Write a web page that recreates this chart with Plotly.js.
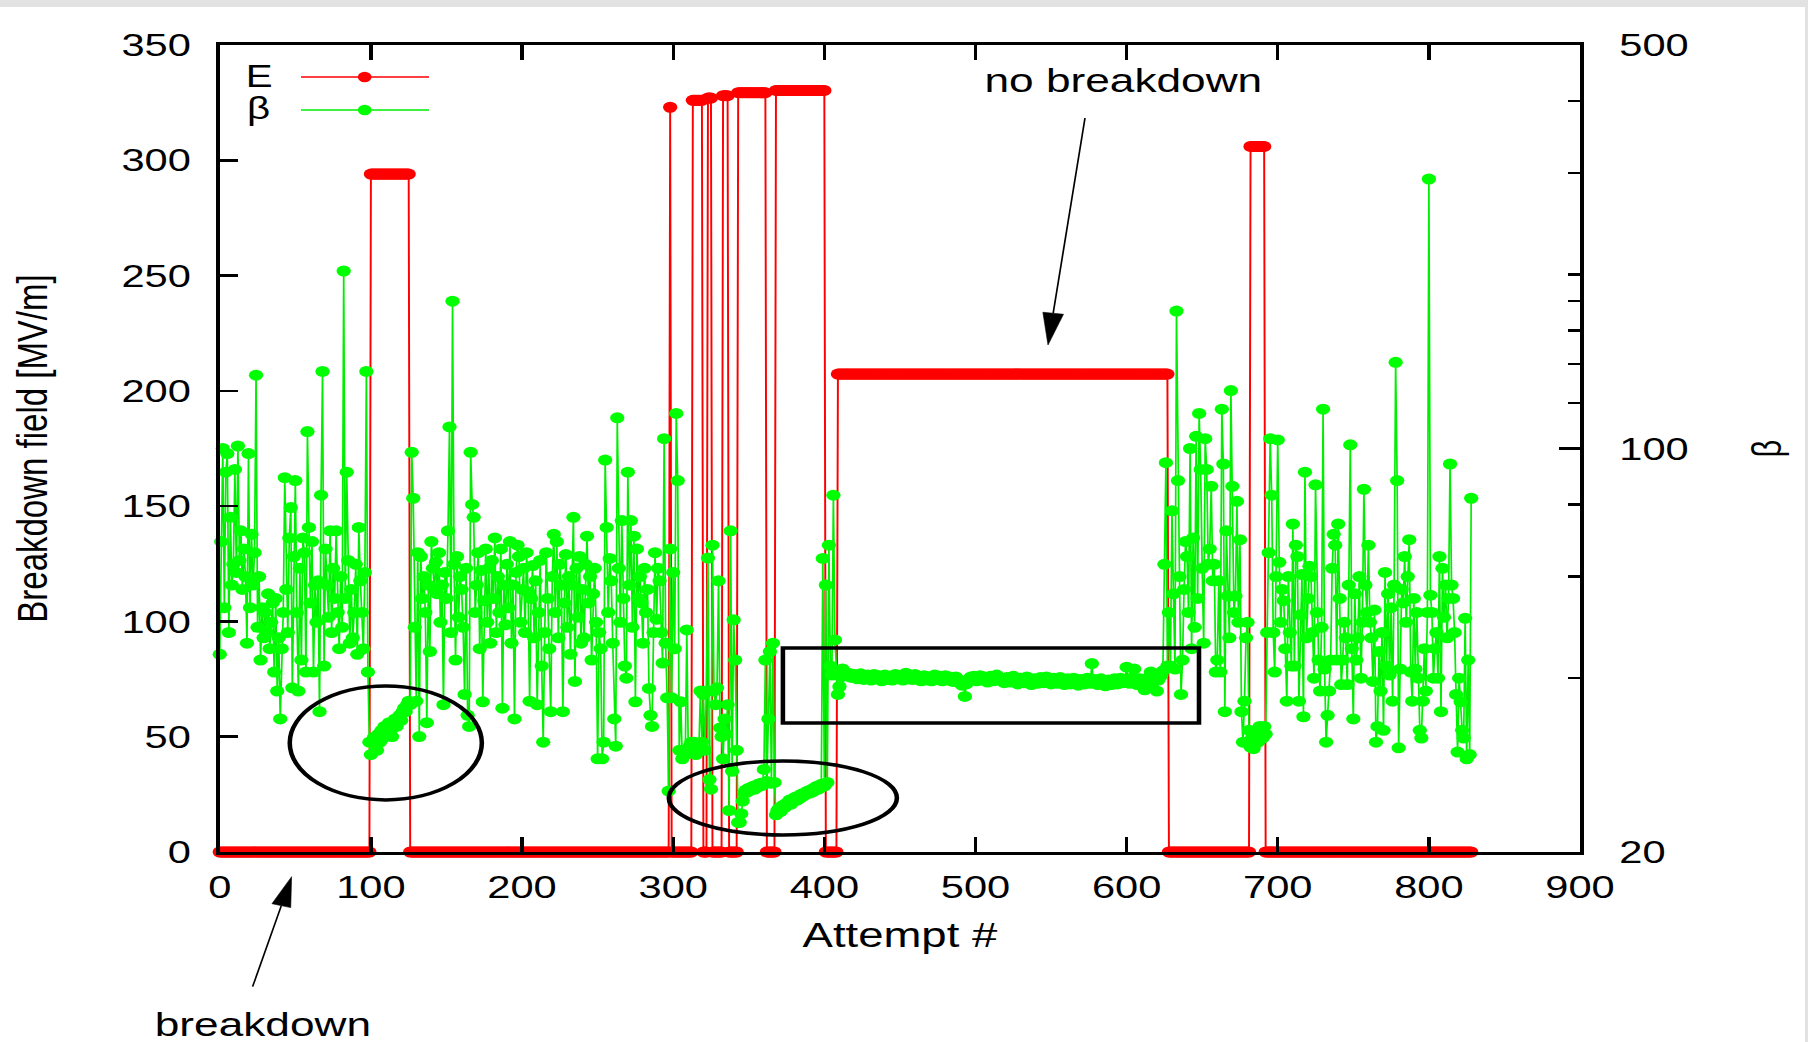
<!DOCTYPE html>
<html>
<head>
<meta charset="utf-8">
<script src="https://cdn.plot.ly/plotly-3.0.1.min.js"></script>
<style>
html,body{margin:0;padding:0;background:#e2e2e2;overflow:hidden;width:1808px;height:1042px;}
#wrap{position:absolute;left:0;top:7px;width:1388px;height:1035px;transform-origin:0 0;transform:scaleX(1.30043);background:#fff;}
#chart{width:1388px;height:1035px;}
</style>
</head>
<body>
<div id="wrap"><div id="chart"></div></div>
<script>
// ---------- DATA ----------
// Breakdown field E [MV/m], given as runs of attempts with a constant level
const eStart = [0, 100, 126, 298, 299, 313, 320, 323, 326, 333, 337, 343, 362, 368, 401, 409, 628, 682, 692];
const eEnd   = [99, 125, 297, 298, 312, 319, 322, 325, 332, 336, 342, 361, 367, 400, 408, 627, 681, 691, 828];
const eLevel = [0, 294, 0, 323, 0, 326, 0, 327, 0, 328, 0, 329.3, 0, 330.3, 0, 207.3, 0, 306, 0];

// Field enhancement factor beta, one value per attempt (attempt # = index 0..828)
const beta = [
  44, 69, 100, 53, 91, 98, 48, 76, 58, 63,
  92, 61, 101, 64, 72, 57, 67, 60, 46, 98,
  53, 71, 58, 66, 134, 49, 60, 43, 53, 47,
  52, 48, 56, 45, 50, 54, 41, 55, 38, 47,
  34, 45, 52, 89, 57, 48, 70, 79, 38.5, 65,
  88, 52, 38, 62, 43, 70, 66, 41, 107, 73,
  54, 69, 41, 58, 50, 59, 35, 83, 136, 42,
  67, 58, 51, 72, 48, 62, 55, 72, 52, 45,
  60, 49, 203, 55, 91, 64, 46, 57, 47, 52,
  63, 44, 73, 59, 52, 45, 61, 136, 41, 31,
  29.5, 31, 31.6, 30.5, 30, 32, 31, 32.5, 31.5, 33,
  33, 32, 33.5, 32.5, 31.7, 33.5, 34, 33, 34, 34.5,
  33.8, 35, 35.5, 35, 36, 36.5, 36, 98.5, 82, 49,
  36.5, 66, 31.7, 65, 55, 60, 52, 33.5, 58, 44.5,
  69, 62, 57, 63.5, 56, 66, 50, 58, 36, 61,
  55, 72, 109, 48, 180, 63, 43, 65, 51, 60,
  57, 49, 37.5, 62, 34.5, 33, 98.5, 80, 76, 52,
  58, 66, 45, 61.5, 36.4, 54.5, 67, 50, 62, 46,
  64, 55, 70, 48, 60, 52, 67, 35.5, 58, 49.5,
  63, 53, 69, 46, 58, 34, 61, 68, 65, 50,
  57, 62, 48, 66, 56.5, 36.5, 55, 62.7, 47, 59,
  36, 52, 64, 42, 31, 48, 66, 55, 45, 35,
  60, 71, 52, 69, 47, 63, 58, 35, 54, 65.5,
  49, 60, 44, 58, 76, 39.5, 62, 51, 65, 46,
  57, 47, 63, 70.5, 54, 60, 43, 56, 62, 50,
  29, 48, 45, 29, 31, 95.5, 73, 52, 64.5, 59,
  46, 34, 30.5, 113, 62, 50, 75, 55, 42, 40,
  91, 58, 75, 49, 70.5, 36.4, 67, 55, 60, 54,
  46, 62, 52, 57, 38.4, 34.5, 33, 48, 66, 50.6,
  62, 59, 48, 42.5, 104, 46, 37, 25.5,
  67, 37, 61, 45, 115, 88, 30, 36.4, 29, 30, 29.5, 48.5, 29.7, 30.5, 31,
  30, 31, 29.5, 30.5, 30, 38, 31, 37.5, 30, 38, 64.6, 26.7, 25.7, 68, 38, 36,
  38.5, 59, 32.8, 31.7, 29, 34, 32, 36, 23.6, 72, 27.6, 50.5, 43, 30, 22.5,
  22.5, 23.3, 24.5, 25.3, 25.6, 25.4, 25.8, 25.6, 25.9, 26, 25.7, 26,
  26.2, 26, 26.3, 26.1, 27.8, 43, 26.5, 34, 44.5, 26.3, 46, 26.4,
  23.2, 23.6, 23.8, 23.5, 24, 24.1, 23.9, 24.3, 24.2, 24.6,
  24.2, 24.7, 24.5, 24.9, 24.6, 25, 24.8, 25.2, 25, 25.3,
  25.2, 25.5, 25.3, 25.6, 25.4, 25.8, 25.6, 26, 25.7, 25.8, 26.2,
  64.5, 26, 58, 26.4, 68, 42, 40.5, 83, 46.6, 41,
  37.5, 38.7, 40.2, 41.5, 41.0, 40.6, 40.4, 40.8, 40.2, 40.5,
  40.1, 40.6, 40.3, 39.9, 40.4, 40.7, 40.2, 39.8, 40.3, 40.1,
  40.5, 40.0, 39.7, 40.2, 40.6, 40.1, 39.9, 40.4, 40.0, 39.6,
  40.1, 40.5, 40.2, 39.8, 40.3, 40.0, 39.7, 40.2, 40.6, 40.1,
  39.9, 40.4, 40.1, 39.7, 40.2, 40.8, 40.3, 39.9, 40.2, 39.8,
  40.3, 40.6, 40.1, 39.8, 40.2, 39.6, 40.0, 40.4, 40.1, 39.7,
  40.2, 40.0, 39.6, 40.1, 40.5, 40.2, 39.8, 40.3, 40.0, 39.6,
  40.1, 40.4, 40.0, 39.7, 40.2, 39.9, 39.5, 39.8, 40.2, 39.9,
  39.5, 39.2, 38.9, 39.4, 37.2, 39.1, 39.5, 39.9, 40.2, 39.8,
  40.3, 39.9, 39.6, 40.1, 40.4, 40.0, 39.7, 40.2, 39.8, 39.4,
  39.9, 40.3, 40.0, 39.6, 40.1, 40.5, 40.2, 39.8, 40.0, 39.6,
  39.3, 39.7, 40.1, 39.8, 39.4, 39.9, 40.3, 39.9, 39.5, 39.1,
  39.6, 40.0, 39.7, 39.3, 39.8, 40.2, 39.8, 39.4, 39.0, 39.5,
  39.9, 39.6, 39.2, 39.7, 40.1, 39.7, 39.3, 39.8, 40.2, 39.9,
  39.5, 39.1, 39.6, 40.0, 39.6, 39.2, 39.7, 40.1, 39.8, 39.4,
  39.0, 39.5, 39.9, 39.5, 39.1, 39.6, 40.0, 39.7, 39.3, 38.9,
  39.4, 39.8, 39.5, 39.1, 39.6, 40.0, 39.6, 39.2, 42.4, 39.5,
  39.8, 39.4, 39.0, 39.5, 39.9, 39.6, 39.2, 38.8, 39.3, 39.7,
  39.4, 39.0, 39.5, 39.9, 39.5, 39.1, 39.6, 40.0, 39.7, 39.3,
  39.8, 41.8, 39.6, 39.2, 39.7, 40.1, 41.5, 39.4, 39.0, 39.5,
  39.9, 39.5, 39.1, 38.2, 39.6, 40.0, 39.7, 41.0, 39.3, 39.8,
  40.1, 38.0, 39.7, 40.2, 40.5, 41.2,
  63, 94.5, 42, 52, 42,
  78, 56, 41.5, 173, 88, 60, 37.5, 43, 57, 69,
  65, 52, 100, 45, 70, 49, 105, 55, 115, 92,
  62, 46, 104, 92, 63, 67, 86, 59, 63, 41,
  43, 59, 41, 117, 94, 35, 72, 55.5, 47, 126,
  86, 52, 55.5, 81, 50, 69.5, 35, 31, 36.5, 47,
  50, 32.5, 30.4, 31.5, 30.2, 31, 32.5, 31, 33, 32,
  31.5, 33, 32, 48, 66, 104, 83, 48, 41, 60,
  103.5, 63.5, 50, 57, 54.5, 45, 36.5, 60, 48, 42,
  74, 42, 68, 65, 36.5, 51.5, 60.5, 34.3, 91, 47,
  55, 62.5, 60, 48, 40, 86.5, 52, 43, 38, 49,
  117, 41.5, 31, 34.5, 38, 43, 62, 71, 68, 43,
  74, 55, 39, 43, 50, 47, 39, 58, 101.5, 45,
  34, 56, 43, 47, 60, 40, 50, 85, 58, 52,
  68, 50, 47, 39.5, 52.5, 31, 33, 44.5, 38, 48,
  32.5, 61, 42, 56, 40.5, 53, 36.5, 58, 141, 88,
  30.3, 41.5, 57, 54, 65, 50, 60, 69.5, 41, 36.5,
  55, 41.5, 52, 40, 32.5, 31.5, 36.5, 45, 38, 52,
  293, 55.7, 52, 40, 45, 48, 40, 65, 35, 62,
  51, 58, 47, 55, 94, 58, 55, 48, 37.5, 29.8,
  40, 36.4, 32.5, 31.5, 50.8, 29, 43, 29.5, 82
];

const xTickVals = [0, 100, 200, 300, 400, 500, 600, 700, 800, 900];
const yTickVals = [0, 50, 100, 150, 200, 250, 300, 350];
const y2TickVals = [20, 100, 500];
const y2TickText = ['20', '100', '500'];
const y2MinorVals = [40, 60, 80, 120, 140, 160, 180, 200, 300, 400];

// ---------- BUILD TRACE ARRAYS ----------
const eX = [], eY = [];
for (let k = 0; k < eStart.length; k++) {
  for (let a = eStart[k]; a <= eEnd[k]; a++) { eX.push(a); eY.push(eLevel[k]); }
}
const bX = beta.map((v, i) => i);
if (beta.length !== 829) console.warn('beta length', beta.length);

// ---------- GEOMETRY HELPERS (page pixels -> paper) ----------
const S = 1805 / 1388;            // horizontal stretch of the original figure
const ML = 169, MR = 173, MT = 38, MB = 190, W0 = 1388, H0 = 1035;
const PW = W0 - ML - MR, PH = H0 - MT - MB;
const px = xf => (xf / S - ML) / PW;
const py = yf => (852 - yf) / PH;

function arrow(tail, tip, headLen, headHalf) {
  const tx = tail[0] / S, ty = tail[1], hx = tip[0] / S, hy = tip[1];
  const dx = tx - hx, dy = ty - hy, len = Math.hypot(dx, dy);
  const ux = dx / len, uy = dy / len;
  const bx = hx + ux * headLen, by = hy + uy * headLen;
  const pxu = -uy, pyu = ux;
  const toP = (x, y) => [(x - ML) / PW, (852 - y) / PH];
  const A = toP(tx, ty), Bc = toP(bx, by), T = toP(hx, hy);
  const C1 = toP(bx + pxu * headHalf, by + pyu * headHalf);
  const C2 = toP(bx - pxu * headHalf, by - pyu * headHalf);
  return [
    {type: 'line', xref: 'paper', yref: 'paper', x0: A[0], y0: A[1], x1: Bc[0], y1: Bc[1],
     line: {color: 'black', width: 1.3}},
    {type: 'path', xref: 'paper', yref: 'paper',
     path: `M${T[0]},${T[1]} L${C1[0]},${C1[1]} L${C2[0]},${C2[1]} Z`,
     fillcolor: 'black', line: {color: 'black', width: 0.5}}
  ];
}

const FONT = 'Liberation Sans, Arial, Helvetica, sans-serif';

const traces = [
  {
    x: eX, y: eY, name: 'E', type: 'scatter', mode: 'lines+markers',
    yaxis: 'y', cliponaxis: false,
    line: {color: '#ff0000', width: 1.5},
    marker: {color: '#ff0000', size: 11}
  },
  {
    x: bX, y: beta, name: 'β', type: 'scatter', mode: 'lines+markers',
    yaxis: 'y2', cliponaxis: false,
    line: {color: '#00ee00', width: 1.3},
    marker: {color: '#00ff00', size: 11}
  }
];

const shapes = [
  {type: 'circle', xref: 'x', yref: 'y', x0: 46.3, x1: 173.4, y0: 22.6, y1: 72, line: {color: 'black', width: 3.5}, layer: 'above'},
  {type: 'circle', xref: 'x', yref: 'y', x0: 297.1, x1: 448, y0: 7.4, y1: 39.5, line: {color: 'black', width: 3.5}, layer: 'above'},
  {type: 'rect', xref: 'x', yref: 'y', x0: 372.6, x1: 647.9, y0: 55.9, y1: 88.5, line: {color: 'black', width: 3.5}, layer: 'above'},
  {type: 'line', xref: 'paper', yref: 'paper', x0: px(301), x1: px(429), y0: py(77), y1: py(77), line: {color: '#ff0000', width: 1.5}},
  {type: 'circle', xref: 'paper', yref: 'paper', xsizemode: 'pixel', ysizemode: 'pixel',
   xanchor: px(364.7), yanchor: py(77), x0: -5.3, x1: 5.3, y0: -5.3, y1: 5.3, fillcolor: '#ff0000', line: {width: 0}},
  {type: 'line', xref: 'paper', yref: 'paper', x0: px(301), x1: px(429), y0: py(110), y1: py(110), line: {color: '#00ee00', width: 1.3}},
  {type: 'circle', xref: 'paper', yref: 'paper', xsizemode: 'pixel', ysizemode: 'pixel',
   xanchor: px(364.7), yanchor: py(110), x0: -5.3, x1: 5.3, y0: -5.3, y1: 5.3, fillcolor: '#00ff00', line: {width: 0}},
  ...arrow([1085, 118], [1048, 345], 32, 8),
  ...arrow([252.6, 986.7], [291.6, 876.7], 30, 7.5)
];

const annotations = [
  {text: 'E', xref: 'paper', yref: 'paper', x: px(259), y: py(77), xanchor: 'center', yanchor: 'middle',
   showarrow: false, font: {family: FONT, size: 31, color: 'black'}},
  {text: 'β', xref: 'paper', yref: 'paper', x: px(259), y: py(108), xanchor: 'center', yanchor: 'middle',
   showarrow: false, font: {family: FONT, size: 31, color: 'black'}},
  {text: 'no breakdown', xref: 'paper', yref: 'paper', x: px(1124), y: py(80), xanchor: 'center', yanchor: 'middle',
   showarrow: false, font: {family: FONT, size: 34, color: 'black'}},
  {text: 'breakdown', xref: 'paper', yref: 'paper', x: px(263), y: py(1024), xanchor: 'center', yanchor: 'middle',
   showarrow: false, font: {family: FONT, size: 34, color: 'black'}}
];

const axisCommon = {
  showgrid: false, zeroline: false, showline: true, linecolor: 'black', linewidth: 2.8,
  ticks: 'inside', tickcolor: 'black', tickwidth: 2.5,
  tickfont: {family: FONT, size: 32, color: 'black'}
};

const layout = {
  width: W0, height: H0,
  margin: {l: ML, r: MR, t: MT, b: MB, pad: 0},
  paper_bgcolor: 'white', plot_bgcolor: 'white',
  showlegend: false,
  font: {family: FONT, color: 'black'},
  xaxis: Object.assign({}, axisCommon, {
    range: [0, 900], tickmode: 'array', tickvals: xTickVals, ticklen: 15,
    mirror: 'ticks', ticklabelstandoff: 5,
    title: {text: 'Attempt #', font: {family: FONT, size: 35, color: 'black'}, standoff: 19}
  }),
  yaxis: Object.assign({}, axisCommon, {
    range: [0, 350], tickmode: 'array', tickvals: yTickVals, ticklen: 14,
    mirror: false, ticklabelstandoff: 13,
    title: {text: 'Breakdown field [MV/m]', font: {family: FONT, size: 33, color: 'black'}, standoff: 47}
  }),
  yaxis2: Object.assign({}, axisCommon, {
    overlaying: 'y', side: 'right', type: 'log',
    range: [Math.log10(20), Math.log10(500)],
    tickmode: 'array', tickvals: y2TickVals, ticktext: y2TickText, ticklen: 16,
    ticklabelstandoff: 21,
    minor: {tickmode: 'array', tickvals: y2MinorVals, ticks: 'inside', ticklen: 9, tickwidth: 2.5, tickcolor: 'black', showgrid: false},
    title: {text: 'β', font: {family: FONT, size: 31, color: 'black'}, standoff: 51}
  }),
  shapes: shapes,
  annotations: annotations
};

Plotly.newPlot('chart', traces, layout, {staticPlot: true, displayModeBar: false});
</script>
</body>
</html>
